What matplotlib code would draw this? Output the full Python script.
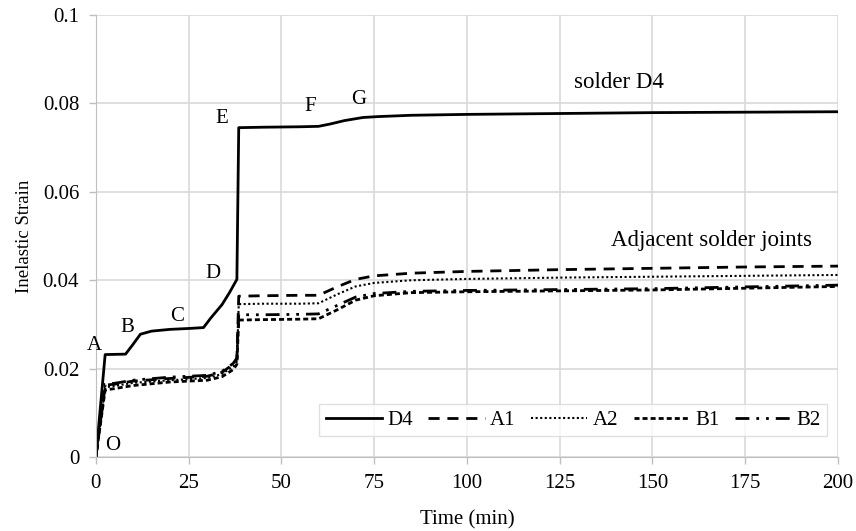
import numpy as np
from matplotlib import pyplot as plt

plt.rcParams['font.family'] = ['Liberation Serif', 'DejaVu Serif']

# time (min) and inelastic strain
t_d4 = [0, 2.5, 8, 10, 12, 15, 20, 25, 29, 31, 34, 36, 38, 38.5, 45, 55, 60, 63, 67, 72, 76, 85, 100, 125, 150, 175, 200]
d4 = [0, 0.0232, 0.0233, 0.0255, 0.0278, 0.0285, 0.0289, 0.0291, 0.0293, 0.0315, 0.0345, 0.0372, 0.0402, 0.0745, 0.0746, 0.0747, 0.0748, 0.0753, 0.0761, 0.0768, 0.0770, 0.0773, 0.0775, 0.0777, 0.0779, 0.0780, 0.0781]

t_adj = [0, 2.5, 5, 10, 20, 30, 34, 37, 38, 38.5, 45, 55, 60, 65, 70, 75, 85, 100, 125, 150, 175, 200]
a1 = [0, 0.0163, 0.0165, 0.0172, 0.0178, 0.0183, 0.0192, 0.0210, 0.0222, 0.0364, 0.0365, 0.0366, 0.0366, 0.0385, 0.0402, 0.0410, 0.0416, 0.0420, 0.0424, 0.0427, 0.0430, 0.0432]
a2 = [0, 0.0158, 0.0161, 0.0168, 0.0174, 0.0179, 0.0188, 0.0205, 0.0216, 0.0346, 0.0347, 0.0347, 0.0348, 0.0368, 0.0386, 0.0394, 0.0400, 0.0403, 0.0406, 0.0408, 0.0410, 0.0412]
b1 = [0, 0.0152, 0.0155, 0.0162, 0.0170, 0.0174, 0.0182, 0.0198, 0.0210, 0.0310, 0.0311, 0.0312, 0.0313, 0.0333, 0.0355, 0.0365, 0.0372, 0.0374, 0.0376, 0.0378, 0.0382, 0.0386]
b2 = [0, 0.0165, 0.0167, 0.0174, 0.0181, 0.0185, 0.0194, 0.0212, 0.0224, 0.0322, 0.0322, 0.0323, 0.0324, 0.0343, 0.0362, 0.0370, 0.0375, 0.0377, 0.0379, 0.0381, 0.0385, 0.0389]

points = ['O', 'A', 'B', 'C', 'D', 'E', 'F', 'G']
point_t = [4.5, -0.3, 8.4, 22, 31.5, 34, 57.7, 70.9]
point_y = [0.0027, 0.0253, 0.0294, 0.0317, 0.0416, 0.0765, 0.0792, 0.0808]

fig = plt.figure(figsize=(8.56, 5.31), dpi=100)
ax = fig.add_axes([0.112, 0.139, 0.867, 0.833])

ax.plot(t_d4, d4, color='black', lw=2.0, ls='-', label='D4')
ax.plot(t_adj, a1, color='black', lw=2.0, ls=(0, (4, 2.8)), label='A1')
ax.plot(t_adj, a2, color='black', lw=1.5, ls=(0, (1, 1.2)), label='A2')
ax.plot(t_adj, b1, color='black', lw=2.0, ls=(0, (1.8, 1.1)), label='B1')
ax.plot(t_adj, b2, color='black', lw=2.0, ls=(0, (5, 2.5, 1, 2.5, 1, 2.5)), label='B2')

# letters marking the stages of the D4 curve
for p, px, py in zip(points, point_t, point_y):
    ax.text(px, py, p, fontsize=15, ha='center', va='center')
ax.text(141, 0.0846, 'solder D4', fontsize=16.5, ha='center', va='center')
ax.text(166, 0.0489, 'Adjacent solder joints', fontsize=16.5, ha='center', va='center')

ax.set_xlim(0, 200)
ax.set_ylim(0, 0.1)
ax.set_xticks(np.arange(0, 201, 25))
ax.set_yticks([0, 0.02, 0.04, 0.06, 0.08, 0.1])
ax.set_yticklabels(['0', '0.02', '0.04', '0.06', '0.08', '0.1'])
ax.tick_params(labelsize=15, color='#bfbfbf', length=5, width=1)
ax.tick_params(axis='x', pad=7)
ax.tick_params(axis='y', pad=7)
ax.grid(color='#d9d9d9', lw=1.2)
ax.set_axisbelow(True)
for s in ['top', 'right']:
    ax.spines[s].set_visible(False)
for s in ['left', 'bottom']:
    ax.spines[s].set_color('#bfbfbf')

ax.set_xlabel('Time (min)', fontsize=15)
ax.xaxis.set_label_coords(0.5, -0.12)
ax.set_ylabel('Inelastic Strain', fontsize=13.5)
ax.yaxis.set_label_coords(-0.085, 0.5)

leg = ax.legend(loc='lower right', ncol=5, fontsize=15, frameon=True, fancybox=False,
                handlelength=2.7, handletextpad=0.25, columnspacing=0.75,
                borderpad=0.3, bbox_to_anchor=(0.985, 0.0475), borderaxespad=0)
leg.get_frame().set_edgecolor('#d9d9d9')
leg.get_frame().set_linewidth(1)

plt.savefig('out.png', dpi=100)
